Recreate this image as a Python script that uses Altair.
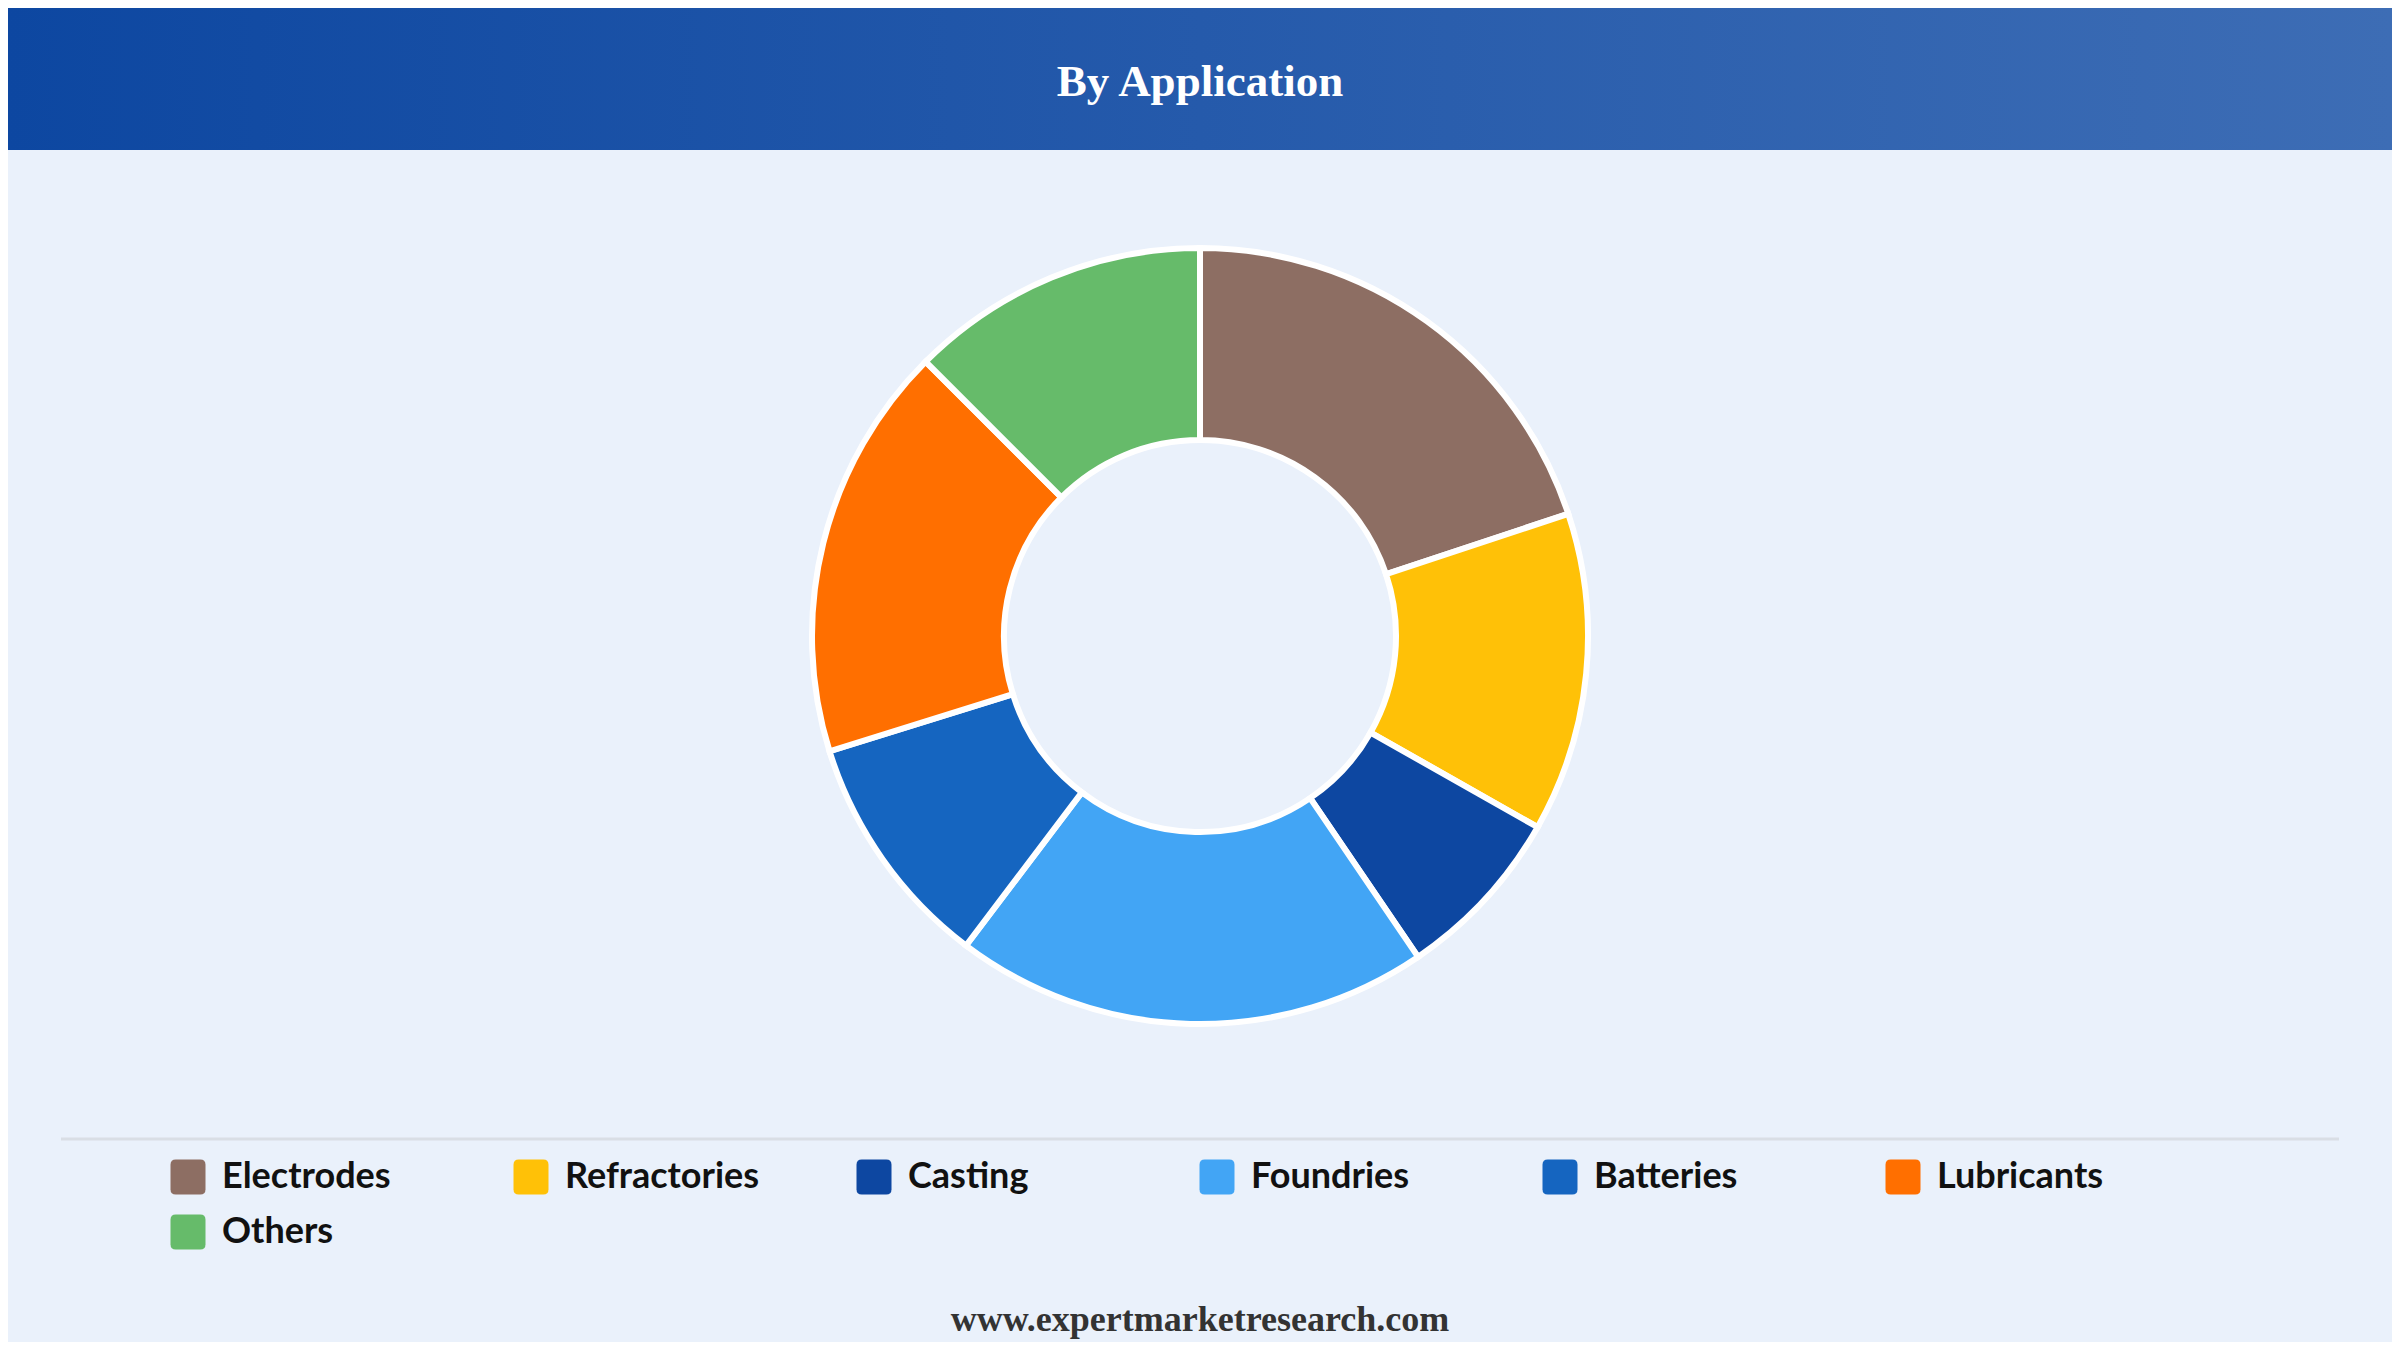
import altair as alt
import pandas as pd

categories = ["Electrodes", "Refractories", "Casting", "Foundries", "Batteries", "Lubricants", "Others"]
shares = [19.9, 13.3, 7.3, 19.8, 9.9, 17.3, 12.5]
colors = ["#8D6E63", "#FFC107", "#0D47A1", "#42A5F5", "#1565C0", "#FF6F00", "#66BB6A"]
title_text = ["By Application"]
footer_text = ["www.expertmarketresearch.com"]

W, H = 2384, 1334

df = pd.DataFrame({"category": categories, "share": shares, "rank": list(range(len(categories)))})

header = alt.Chart(pd.DataFrame({"k": [0]})).mark_rect(
    color={"gradient": "linear", "x1": 0, "x2": 1, "y1": 0, "y2": 0,
           "stops": [{"offset": 0, "color": "#0D47A1"}, {"offset": 1, "color": "#3D6DB5"}]}
).encode(x=alt.value(0), x2=alt.value(W), y=alt.value(0), y2=alt.value(142))

title = alt.Chart(pd.DataFrame({"t": title_text})).mark_text(
    font="Liberation Serif", fontWeight="bold", fontSize=45, color="white",
    align="center", baseline="middle"
).encode(x=alt.value(W / 2), y=alt.value(74), text="t:N")

rule = alt.Chart(pd.DataFrame({"k": [0]})).mark_rule(color="#D9DEE5", strokeWidth=3).encode(
    x=alt.value(53), x2=alt.value(2331), y=alt.value(1131)
)

footer = alt.Chart(pd.DataFrame({"t": footer_text})).mark_text(
    font="Liberation Serif", fontWeight="bold", fontSize=36, color="#333333",
    align="center", baseline="middle"
).encode(x=alt.value(W / 2), y=alt.value(1312), text="t:N")

sym = "M-0.7,-1 L0.7,-1 Q1,-1 1,-0.7 L1,0.7 Q1,1 0.7,1 L-0.7,1 Q-1,1 -1,0.7 L-1,-0.7 Q-1,-1 -0.7,-1 Z"

arc = alt.Chart(df).mark_arc(outerRadius=388, innerRadius=196, stroke="white", strokeWidth=6).encode(
    theta=alt.Theta("share:Q", stack=True),
    color=alt.Color(
        "category:N",
        scale=alt.Scale(domain=categories, range=colors),
        sort=categories,
        legend=alt.Legend(
            title=None, orient="none", legendX=162, legendY=1151,
            direction="horizontal", columns=6, columnPadding=96, rowPadding=19,
            symbolType=sym, symbolSize=1225, symbolStrokeWidth=0,
            labelFont="Lato", labelFontSize=36, labelFontWeight="bold", labelColor="#111111",
            labelOffset=16, labelLimit=500, gridAlign="all", padding=0,
        ),
    ),
    order=alt.Order("rank:Q"),
    x=alt.value(W / 2),
    y=alt.value(628),
)

chart = alt.layer(header, title, rule, arc, footer).properties(
    width=W, height=H, autosize=alt.AutoSizeParams(type="none"), padding=0, background="#EAF1FB"
).configure_view(strokeWidth=0)

chart.save("out.html", embed_options={"renderer": "svg", "actions": False})
